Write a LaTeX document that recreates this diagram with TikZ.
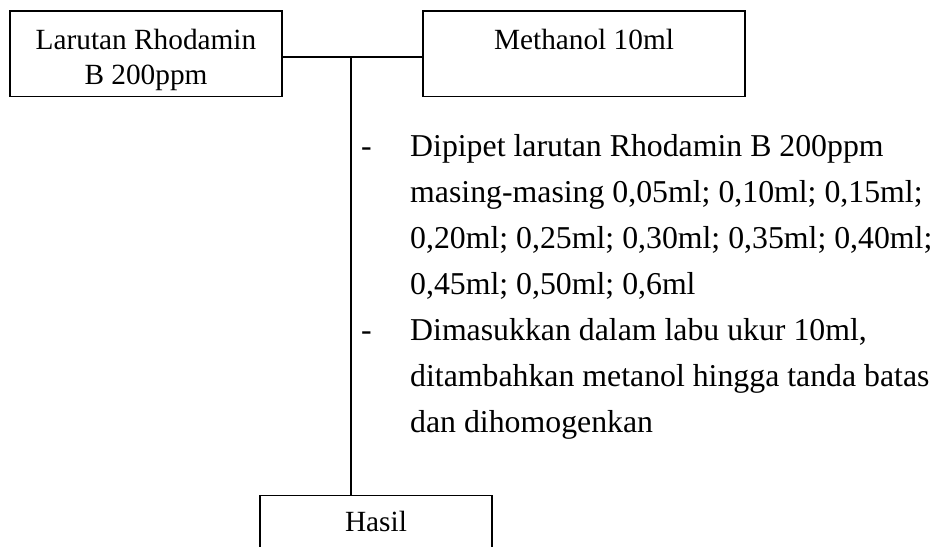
\documentclass[tikz,border=0pt]{standalone}
\usepackage{fontspec}
\setmainfont{Liberation Serif}
\begin{document}
\begin{tikzpicture}[x=1pt,y=-1pt,
  box/.style={draw, line width=1.2pt, inner sep=0pt, rectangle},
  txt/.style={inner sep=0pt, anchor=base, font=\fontsize{29.3}{33}\selectfont},
  itemtxt/.style={inner sep=0pt, anchor=base west, font=\fontsize{31.8}{46}\selectfont},
  conn/.style={line width=1.3pt}]
\useasboundingbox (0,0) rectangle (936,546);

% input boxes
\node[box, minimum width=272pt, minimum height=85.5pt] (L) at (146,53.75) {};
\node[txt] (Lt1) at (146,49) {Larutan Rhodamin};
\node[txt] (Lt2) at (146,84) {B 200ppm};

\node[box, minimum width=322pt, minimum height=85.5pt] (M) at (584,53.75) {};
\node[txt] (Mt) at (584,49) {Methanol 10ml};

% result box (continues past the lower edge)
\node[box, minimum width=232pt, minimum height=100pt] (H) at (376,545.5) {};
\node[txt] (Ht) at (376,531) {Hasil};

% connectors
\coordinate (J) at (351,57);
\draw[conn] (L.east |- J) -- (M.west |- J);
\draw[conn] (J) -- (J |- H.north);

% procedure steps
\node[itemtxt] (d1) at (361,156) {-};
\node[itemtxt] (d2) at (361,340) {-};
\foreach \t [count=\i] in {
  {Dipipet larutan Rhodamin B 200ppm},
  {masing-masing 0,05ml; 0,10ml; 0,15ml;},
  {0,20ml; 0,25ml; 0,30ml; 0,35ml; 0,40ml;},
  {0,45ml; 0,50ml; 0,6ml},
  {Dimasukkan dalam labu ukur 10ml,},
  {ditambahkan metanol hingga tanda batas},
  {dan dihomogenkan}}
  \node[itemtxt] (s\i) at (410,156+46*\i-46) {\t};
\end{tikzpicture}
\end{document}
